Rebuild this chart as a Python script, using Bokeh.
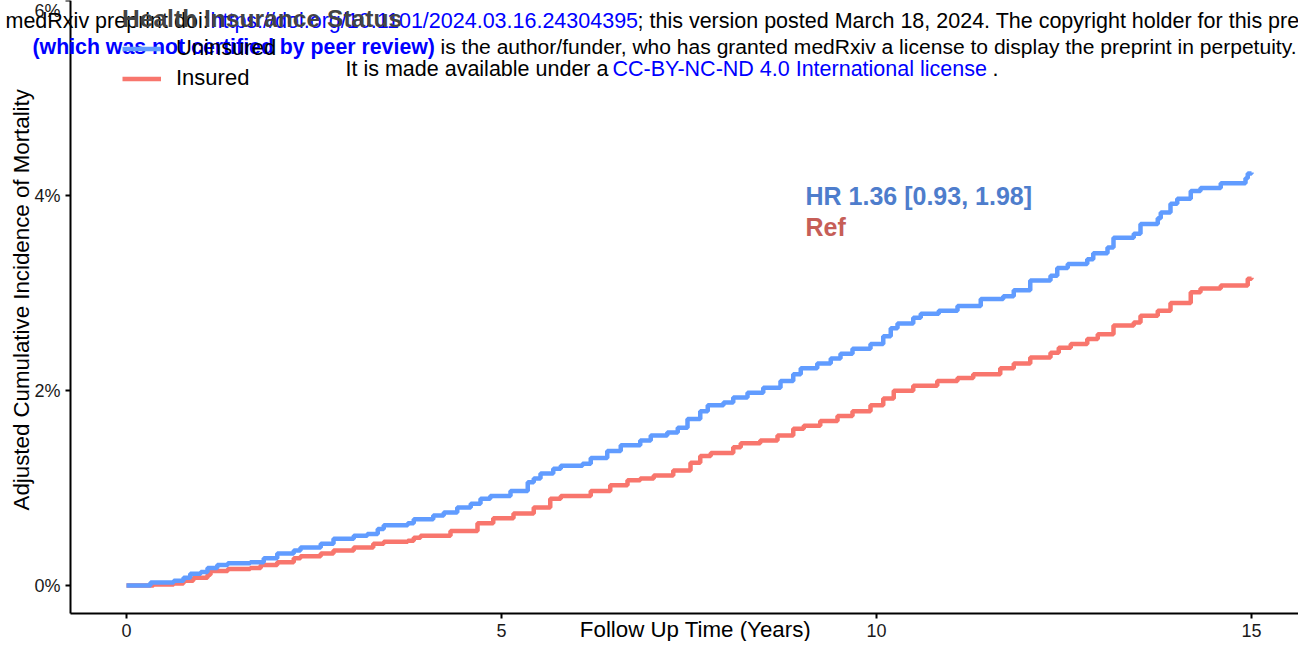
import math
from bokeh.plotting import figure
from bokeh.models import Label, Legend, LegendItem, FixedTicker, PrintfTickFormatter, Range1d
from bokeh.embed import file_html
from bokeh.resources import INLINE

# ---------------- data ----------------
years_uninsured = [0, 0.32, 0.63, 0.76, 0.85, 0.99, 1.08, 1.21, 1.35, 1.65, 1.83, 2.01, 2.23, 2.32,
                   2.59, 2.76, 3.03, 3.21, 3.35, 3.43, 3.75, 3.83, 4.09, 4.23, 4.41, 4.59, 4.72, 4.85,
                   5.12, 5.35, 5.43, 5.52, 5.69, 5.79, 6.08, 6.19, 6.41, 6.59, 6.85, 6.99, 7.21, 7.35,
                   7.48, 7.65, 7.75, 7.96, 8.09, 8.28, 8.49, 8.72, 8.89, 8.99, 9.21, 9.39, 9.52, 9.68,
                   9.92, 10.09, 10.19, 10.28, 10.49, 10.59, 10.83, 11.08, 11.39, 11.69, 11.83, 12.05,
                   12.32, 12.41, 12.55, 12.81, 12.89, 13.08, 13.16, 13.43, 13.52, 13.75, 13.79, 13.92,
                   14.01, 14.19, 14.32, 14.59, 14.92, 14.95, 15.0]
incidence_uninsured = [0, 0.03, 0.05, 0.08, 0.12, 0.14, 0.18, 0.21, 0.23, 0.24, 0.28, 0.33, 0.36, 0.39,
                       0.43, 0.48, 0.51, 0.53, 0.58, 0.62, 0.64, 0.68, 0.72, 0.75, 0.80, 0.84, 0.89, 0.92,
                       0.97, 1.06, 1.10, 1.15, 1.20, 1.23, 1.25, 1.31, 1.38, 1.44, 1.49, 1.54, 1.57, 1.62,
                       1.71, 1.79, 1.85, 1.88, 1.93, 1.98, 2.03, 2.10, 2.17, 2.23, 2.28, 2.33, 2.38, 2.43,
                       2.48, 2.56, 2.64, 2.69, 2.75, 2.79, 2.82, 2.87, 2.94, 2.97, 3.03, 3.13,
                       3.18, 3.26, 3.30, 3.35, 3.41, 3.47, 3.57, 3.61, 3.71, 3.77, 3.83, 3.92,
                       3.97, 4.05, 4.08, 4.13, 4.18, 4.23, 4.24]

years_insured = [0, 0.36, 0.63, 0.76, 0.89, 1.08, 1.12, 1.35, 1.65, 1.79, 2.01, 2.23, 2.32, 2.59, 2.76,
                 3.03, 3.29, 3.43, 3.75, 3.83, 3.92, 4.32, 4.68, 4.89, 5.16, 5.43, 5.65, 5.79, 6.19,
                 6.45, 6.68, 6.85, 7.03, 7.29, 7.52, 7.65, 7.79, 8.09, 8.19, 8.45, 8.68, 8.89, 9.03,
                 9.25, 9.48, 9.68, 9.92, 10.09, 10.23, 10.49, 10.81, 11.08, 11.29, 11.65, 11.83, 12.05,
                 12.32, 12.43, 12.59, 12.81, 12.95, 13.16, 13.43, 13.52, 13.75, 13.92, 14.19, 14.32,
                 14.59, 14.95, 15.0]
incidence_insured = [0, 0.01, 0.02, 0.05, 0.08, 0.11, 0.15, 0.17, 0.18, 0.21, 0.24, 0.28, 0.30, 0.33, 0.36,
                     0.39, 0.43, 0.45, 0.46, 0.49, 0.51, 0.56, 0.64, 0.69, 0.74, 0.80, 0.89, 0.92, 0.97,
                     1.03, 1.08, 1.10, 1.13, 1.18, 1.26, 1.33, 1.36, 1.42, 1.46, 1.49, 1.54, 1.61, 1.64,
                     1.69, 1.74, 1.79, 1.85, 1.92, 2.00, 2.05, 2.10, 2.13, 2.17, 2.23, 2.28, 2.34,
                     2.39, 2.44, 2.48, 2.53, 2.58, 2.67, 2.70, 2.77, 2.82, 2.90, 3.01, 3.05,
                     3.08, 3.15, 3.16]

x_ticks = [0, 5, 10, 15]
y_ticks = [0, 2, 4, 6]
series_labels = ["Uninsured", "Insured"]
legend_title = "Health Insurance Status"
x_title = "Follow Up Time (Years)"
y_title = "Adjusted Cumulative Incidence of Mortality"
hr_text = "HR 1.36 [0.93, 1.98]"
ref_text = "Ref"

# ---------------- layout (canvas pixels) ----------------
W, H = 1298, 641
X0, PX_YEAR = 126, 75.0             # canvas px of year 0, px per year
Y0, PX_PCT = 585, 97.5              # canvas px of 0 %, px per percent
AXIS_L, AXIS_B = 70, 613            # where the axis lines sit


def dx(cx):
    return (cx - X0) / PX_YEAR


def dy(cy):
    return (Y0 - cy) / PX_PCT


FONT = "Liberation Sans"
BLUE = "#619CFF"
RED = "#F8766D"

p = figure(width=W, height=H, output_backend="svg", toolbar_location=None,
           x_range=Range1d(dx(0), dx(W)), y_range=Range1d(dy(H), dy(-0.5)),
           min_border_left=0, min_border_right=0, min_border_top=0, min_border_bottom=0)
p.outline_line_color = None
p.xgrid.visible = False
p.ygrid.visible = False
p.background_fill_color = "white"
p.border_fill_color = "white"

for ax in (p.xaxis[0], p.yaxis[0]):
    ax.axis_line_color = "black"
    ax.axis_line_width = 2
    ax.major_tick_line_color = "black"
    ax.major_tick_line_width = 2
    ax.major_tick_out = 5
    ax.major_tick_in = 0
    ax.minor_tick_line_color = None
    ax.major_label_text_font = FONT
    ax.major_label_text_font_size = "18px"
    ax.major_label_text_color = "#1a1a1a"
    ax.major_label_standoff = 5

p.xaxis[0].ticker = FixedTicker(ticks=x_ticks)
p.yaxis[0].ticker = FixedTicker(ticks=y_ticks)
p.yaxis[0].formatter = PrintfTickFormatter(format="%d%%")
p.xaxis[0].fixed_location = dy(AXIS_B)
p.yaxis[0].fixed_location = dx(AXIS_L)
p.xaxis[0].bounds = (dx(AXIS_L), dx(W))
p.yaxis[0].bounds = (dy(AXIS_B), dy(-0.5))

r_ins = p.step(years_insured, incidence_insured, mode="after", line_color=RED, line_width=4.5)
r_unins = p.step(years_uninsured, incidence_uninsured, mode="after", line_color=BLUE, line_width=4.5)

legend = Legend(items=[LegendItem(label=series_labels[0], renderers=[r_unins]),
                       LegendItem(label=series_labels[1], renderers=[r_ins])],
                location=(122, 550), title=legend_title,
                title_text_font=FONT, title_text_font_style="bold", title_text_font_size="24.6px",
                label_text_font=FONT, label_text_font_size="22px", label_text_color="black",
                glyph_width=39, glyph_height=25, label_height=25, spacing=4, label_standoff=15,
                padding=0, margin=0, title_standoff=2,
                background_fill_alpha=0, border_line_alpha=0)
p.add_layout(legend)


def lab(text, cx, cy, size, color="black", bold=False, align="left", angle=0.0):
    p.add_layout(Label(x=dx(cx), y=dy(cy), text=text, text_font=FONT, text_font_size=size,
                       text_color=color, text_font_style="bold" if bold else "normal",
                       text_align=align, text_baseline="middle", angle=angle))


# axis titles
lab(x_title, 695, 629, "22.3px", align="center")
lab(y_title, 21, 299, "22.3px", align="center", angle=math.pi / 2)

# HR annotations
lab(hr_text, 805, 195, "25px", color="#4E7DCC", bold=True)
lab(ref_text, 805, 226, "25px", color="#C65E57", bold=True)

# medRxiv overlay
WM = "21.5px"
lab("medRxiv preprint doi: ", 5, 20, WM)
lab("https://doi.org/10.1101/2024.03.16.24304395", 210, 20, WM, color="#0000FF")
lab("; this version posted March 18, 2024. The copyright holder for this preprint", 637, 20, WM)
lab("(which was not certified by peer review)", 32, 46, "21.3px", color="#0000FF", bold=True)
lab("is the author/funder, who has granted medRxiv a license to display the preprint in perpetuity.",
    440, 46, "21.05px")
lab("It is made available under a ", 345, 68, WM)
lab("CC-BY-NC-ND 4.0 International license", 612, 68, WM, color="#0000FF")
lab(".", 992, 68, WM)

open("out.html", "w").write(file_html(p, INLINE))
